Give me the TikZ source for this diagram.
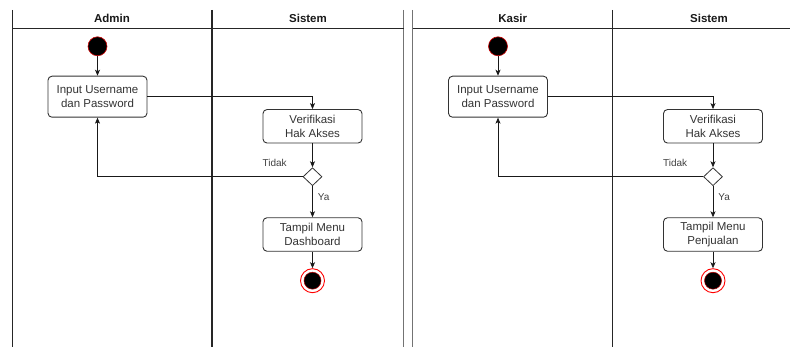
\documentclass[tikz,border=0pt]{standalone}
\usepackage{fontspec}
\setmainfont{Liberation Sans}
\usetikzlibrary{shapes.geometric,arrows.meta}
\newcommand\swimflow[3]{%
 \begin{scope}[xshift=#3]
  \node[startst] (#1start) at (97.5,46.3) {};
  \node[act, minimum height=41pt] (#1in) at (97.5,96.7) {Input Username\\dan Password};
  \node[act, minimum height=33.5pt] (#1ver) at (312.5,126.3) {Verifikasi\\Hak Akses};
  \node[decision] (#1dec) at (312.5,176.7) {};
  \node[act, minimum height=33.5pt] (#1tam) at (312.5,234.5) {Tampil Menu\\#2};
  \node[endouter] (#1end) at (312.5,280.7) {};
  \node[endinner] (#1endin) at (#1end.center) {};
  \node[lbl] (#1tidak) at (274.7,162.7) {Tidak};
  \node[lbl] (#1ya) at (323.7,196.7) {Ya};
  \draw[flow] (#1start) -- (#1in);
  \draw[flow] (#1in.east) -| (#1ver.north);
  \draw[flow] (#1ver) -- (#1dec);
  \draw[flow] (#1dec.west) -| (#1in.south);
  \draw[flow] (#1dec) -- (#1tam);
  \draw[flow] (#1tam) -- (#1end);
 \end{scope}}
\begin{document}
\begin{tikzpicture}[x=1pt,y=-1pt,
  lane/.style={line width=1.4pt, draw=black!85},
  edgeline/.style={line width=1.3pt, draw=black!55},
  act/.style={draw=black!80, line width=0.9pt, rounded corners=4pt, minimum width=99pt, inner sep=0pt, align=center, font=\fontsize{11.5}{14.3}\selectfont, text=black!80},
  hdr/.style={font=\bfseries\fontsize{11.5}{14}\selectfont, text=black!90, inner sep=0pt},
  lbl/.style={font=\fontsize{10}{12}\selectfont, text=black!75, inner sep=0pt},
  flow/.style={draw=black!90, line width=0.8pt, -{Stealth[length=6pt,width=5pt,inset=1.5pt]}},
  startst/.style={circle, fill=black, draw=red!80!black, line width=0.6pt, minimum size=19pt, inner sep=0pt},
  endouter/.style={circle, fill=white, draw=red, line width=0.9pt, minimum size=24pt, inner sep=0pt},
  endinner/.style={circle, fill=black, draw=red!70!black, line width=0.5pt, minimum size=17pt, inner sep=0pt},
  decision/.style={diamond, draw=black!80, line width=0.8pt, fill=white, minimum width=19pt, minimum height=18pt, inner sep=0pt},
]
\useasboundingbox (0,0) rectangle (790,347);
\clip (0,0) rectangle (790,347);
% lanes left
\draw[lane] (12.5,10) -- (12.5,347);
\draw[lane] (212,10) -- (212,347);
\draw[edgeline] (403.7,10) -- (403.7,347);
\draw[lane] (12.5,28.5) -- (403.7,28.5);
% lanes right
\draw[edgeline] (412.7,10) -- (412.7,347);
\draw[lane] (612.7,10) -- (612.7,347);
\draw[lane] (412.7,28.5) -- (790,28.5);
% headers
\node[hdr] (h1) at (112,18) {Admin};
\node[hdr] (h2) at (308,18) {Sistem};
\node[hdr] (h3) at (512.7,18) {Kasir};
\node[hdr] (h4) at (709,18) {Sistem};
\swimflow{a}{Dashboard}{0pt}
\swimflow{k}{Penjualan}{400.5pt}
\end{tikzpicture}
\end{document}
